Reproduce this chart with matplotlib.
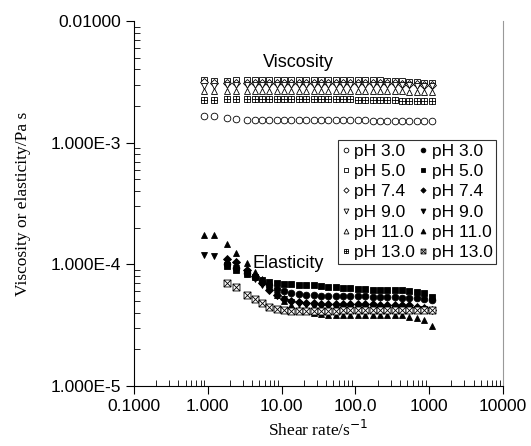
import numpy as np
import matplotlib
matplotlib.use('Agg')
import matplotlib.pyplot as plt
from matplotlib.path import Path

nan = np.nan

# shear rate (1/s)
shear_rate = [0.9, 1.2, 1.8, 2.4, 3.4, 4.3, 5.4, 6.8, 8.6, 10.8, 13.6, 17.1, 21.5, 27.1, 34.1,
              42.9, 54.0, 68.0, 85.6, 108, 136, 171, 215, 271, 341, 429, 540, 680, 856, 1080]

# viscosity, in 1e-3 Pa s
visc_ph3 = [1.67, 1.65, 1.58, 1.57, 1.55, 1.55, 1.54, 1.54, 1.54, 1.53, 1.53, 1.53, 1.53, 1.53, 1.53,
            1.53, 1.53, 1.53, 1.53, 1.53, 1.53, 1.52, 1.52, 1.52, 1.52, 1.52, 1.52, 1.52, 1.52, 1.52]
visc_ph5 = [3.25, 3.2, 3.2, 3.25, 3.3, 3.3, 3.3, 3.3, 3.3, 3.3, 3.3, 3.3, 3.3, 3.3, 3.3,
            3.3, 3.28, 3.28, 3.28, 3.26, 3.26, 3.25, 3.25, 3.24, 3.22, 3.2, 3.18, 3.15, 3.12, 3.1]
visc_ph74 = [3.15, 3.1, 3.1, 3.1, 3.1, 3.1, 3.1, 3.1, 3.1, 3.1, 3.1, 3.1, 3.1, 3.1, 3.1,
             3.1, 3.1, 3.1, 3.1, 3.1, 3.1, 3.1, 3.1, 3.08, 3.08, 3.06, 3.05, 3.02, 3.0, 2.98]
visc_ph9 = [2.95, 2.95, 3.0, 3.0, 3.0, 3.0, 3.0, 3.0, 3.0, 3.0, 3.0, 3.0, 3.0, 3.0, 3.0,
            3.0, 3.0, 3.0, 3.0, 3.0, 3.0, 3.0, 3.0, 2.98, 2.98, 2.97, 2.96, 2.95, 2.93, 2.9]
visc_ph11 = [2.65, 2.65, 2.66, 2.66, 2.66, 2.66, 2.66, 2.66, 2.66, 2.66, 2.66, 2.66, 2.66, 2.66, 2.66,
             2.66, 2.66, 2.66, 2.66, 2.66, 2.65, 2.65, 2.65, 2.65, 2.64, 2.64, 2.63, 2.62, 2.61, 2.6]
visc_ph13 = [2.26, 2.26, 2.27, 2.27, 2.28, 2.28, 2.28, 2.28, 2.28, 2.28, 2.28, 2.28, 2.28, 2.28, 2.28,
             2.27, 2.27, 2.27, 2.27, 2.26, 2.26, 2.25, 2.25, 2.24, 2.23, 2.22, 2.21, 2.2, 2.19, 2.19]

# elasticity, in 1e-5 Pa s
elas_ph3 = [nan, nan, 10.0, 9.4, 8.5, 7.8, 7.2, 6.7, 6.3, 6.0, 5.8, 5.7, 5.6, 5.6, 5.5,
            5.5, 5.5, 5.5, 5.5, 5.5, 5.5, 5.4, 5.4, 5.4, 5.4, 5.3, 5.3, 5.3, 5.2, 5.1]
elas_ph5 = [nan, nan, 9.6, 9.0, 8.4, 7.9, 7.5, 7.2, 7.0, 6.9, 6.9, 6.8, 6.8, 6.7, 6.6,
            6.5, 6.5, 6.4, 6.4, 6.3, 6.3, 6.2, 6.2, 6.2, 6.1, 6.1, 6.0, 5.9, 5.8, 5.4]
elas_ph74 = [nan, nan, 11.0, 10.5, 9.0, 8.0, 7.0, 6.2, 5.6, 5.2, 5.0, 4.9, 4.8, 4.8, 4.7,
             4.7, 4.7, 4.7, 4.7, 4.7, 4.7, 4.7, 4.6, 4.6, 4.6, 4.6, 4.6, 4.5, 4.4, 4.2]
elas_ph9 = [12.0, 11.8, 9.8, 9.3, 8.6, 7.6, 6.8, 6.1, 5.6, 5.2, 4.9, 4.7, 4.6, 4.5, 4.5,
            4.5, 4.4, 4.4, 4.4, 4.4, 4.4, 4.4, 4.4, 4.4, 4.4, 4.4, 4.3, 4.3, 4.3, 4.2]
elas_ph11 = [17.4, 17.4, 14.7, 12.3, 10.2, 8.7, 7.6, 6.6, 5.6, 5.0, 4.6, 4.3, 4.1, 4.0, 3.9,
             3.8, 3.8, 3.8, 3.8, 3.8, 3.8, 3.8, 3.8, 3.8, 3.8, 3.8, 3.7, 3.6, 3.5, 3.1]
elas_ph13 = [nan, nan, 7.0, 6.5, 5.6, 5.2, 4.8, 4.5, 4.3, 4.2, 4.1, 4.1, 4.1, 4.1, 4.1,
             4.1, 4.1, 4.2, 4.2, 4.2, 4.2, 4.2, 4.2, 4.2, 4.2, 4.2, 4.2, 4.2, 4.2, 4.2]

ph_labels = ['pH 3.0', 'pH 5.0', 'pH 7.4', 'pH 9.0', 'pH 11.0', 'pH 13.0']

xticks = [0.1, 1, 10, 100, 1000, 10000]
xtick_labels = ['0.1000', '1.000', '10.00', '100.0', '1000', '10000']
yticks = [1e-5, 1e-4, 1e-3, 1e-2]
ytick_labels = ['1.000E-5', '1.000E-4', '1.000E-3', '0.01000']

# custom markers: square with plus, square with x
sq = [(-1, -1), (1, -1), (1, 1), (-1, 1), (-1, -1)]
sq_codes = [Path.MOVETO, Path.LINETO, Path.LINETO, Path.LINETO, Path.CLOSEPOLY]
plus_sq = Path(sq + [(0, -1), (0, 1), (-1, 0), (1, 0)],
               sq_codes + [Path.MOVETO, Path.LINETO, Path.MOVETO, Path.LINETO])
cross_sq = Path(sq + [(-1, -1), (1, 1), (-1, 1), (1, -1)],
                sq_codes + [Path.MOVETO, Path.LINETO, Path.MOVETO, Path.LINETO])

visc_sets = [visc_ph3, visc_ph5, visc_ph74, visc_ph9, visc_ph11, visc_ph13]
elas_sets = [elas_ph3, elas_ph5, elas_ph74, elas_ph9, elas_ph11, elas_ph13]
visc_markers = ['o', 's', 'D', 'v', '^', plus_sq]
elas_markers = ['o', 's', 'D', 'v', '^', cross_sq]
msizes = [4.8, 4.5, 3.8, 5.0, 5.0, 5.0]

plt.rcParams['font.family'] = ['Liberation Sans', 'DejaVu Sans']

fig = plt.figure(figsize=(5.31, 4.46), dpi=100)
ax = fig.add_axes([134 / 531, 1 - 386 / 446, 369 / 531, 365 / 446])

handles_open = []
handles_fill = []
for i in range(6):
    v = [val * 1e-3 for val in visc_sets[i]]
    h, = ax.plot(shear_rate, v, linestyle='none', marker=visc_markers[i], ms=msizes[i],
                 mfc='white', mec='black', mew=0.6, label=ph_labels[i])
    handles_open.append(h)
for i in range(6):
    e = [val * 1e-5 for val in elas_sets[i]]
    if i == 5:
        h, = ax.plot(shear_rate, e, linestyle='none', marker=elas_markers[i], ms=msizes[i],
                     mfc='white', mec='black', mew=0.6, label=ph_labels[i])
    else:
        h, = ax.plot(shear_rate, e, linestyle='none', marker=elas_markers[i], ms=msizes[i],
                     mfc='black', mec='black', mew=0.6, label=ph_labels[i])
    handles_fill.append(h)

ax.set_xscale('log')
ax.set_yscale('log')
ax.set_xlim(0.1, 10000)
ax.set_ylim(1e-5, 1e-2)
ax.set_xticks(xticks)
ax.set_xticklabels(xtick_labels, fontsize=12.5)
ax.set_yticks(yticks)
ax.set_yticklabels(ytick_labels, fontsize=12.5)

ax.tick_params(which='major', direction='out', length=6, width=0.8)
ax.tick_params(which='minor', direction='in', length=4, width=0.6)
ax.tick_params(axis='y', which='both', right=False)
ax.tick_params(axis='x', which='both', top=False)

ax.spines['top'].set_visible(False)
ax.spines['right'].set_color('#999999')
ax.spines['right'].set_linewidth(0.8)
ax.spines['left'].set_linewidth(0.8)
ax.spines['bottom'].set_linewidth(0.8)

ax.set_xlabel('Shear rate/s$^{-1}$', family='Liberation Serif', fontsize=12.5, labelpad=4)
ax.set_ylabel('Viscosity or elasticity/Pa s', family='Liberation Serif', fontsize=12.5)
ax.yaxis.set_label_coords(-0.28, 0.5)

ax.text(17, 4.6e-3, 'Viscosity', fontsize=13, ha='center', va='center')
ax.text(4.0, 1.02e-4, 'Elasticity', fontsize=13, ha='left', va='center')

leg = ax.legend(handles_open + handles_fill, ph_labels + ph_labels, ncol=2,
                loc='upper left', bbox_to_anchor=(204 / 369, 1 - 119 / 365),
                fontsize=12.5, frameon=True, fancybox=False, edgecolor='black',
                handlelength=0.5, handletextpad=0.25, columnspacing=0.2,
                labelspacing=0.3, borderpad=0.2, markerscale=0.7, borderaxespad=0)
leg.get_frame().set_linewidth(0.8)

plt.savefig('out.png', dpi=100)
